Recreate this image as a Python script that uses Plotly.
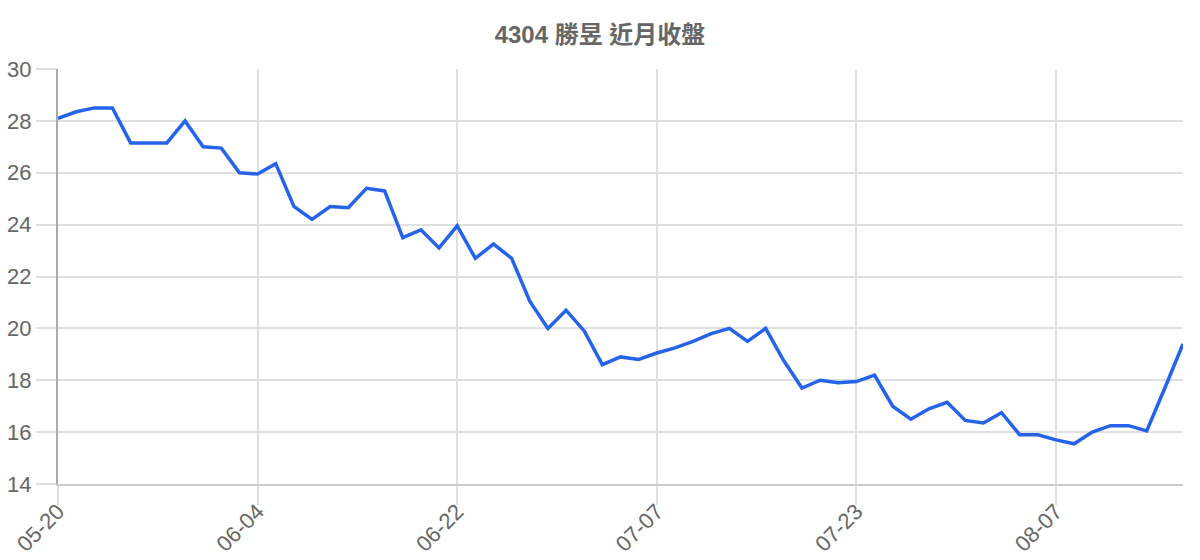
import plotly.graph_objects as go

dates = [
    "05-20", "05-21", "05-22", "05-23", "05-24", "05-27", "05-28", "05-29", "05-30", "05-31", "06-03",
    "06-04", "06-05", "06-06", "06-07", "06-11", "06-12", "06-13", "06-14", "06-17", "06-18", "06-20",
    "06-22", "06-24", "06-25", "06-26", "06-27", "06-28", "07-01", "07-02", "07-03", "07-04", "07-05",
    "07-07", "07-08", "07-09", "07-10", "07-11", "07-12", "07-15", "07-16", "07-17", "07-18", "07-19",
    "07-23", "07-24", "07-25", "07-26", "07-29", "07-30", "07-31", "08-01", "08-02", "08-05", "08-06",
    "08-07", "08-08", "08-09", "08-12", "08-13", "08-14", "08-15", "08-16",
]

close = [
    28.1, 28.35, 28.5, 28.5, 27.15, 27.15, 27.15, 28.0, 27.0, 26.95, 26.0,
    25.95, 26.35, 24.7, 24.2, 24.7, 24.65, 25.4, 25.3, 23.5, 23.8, 23.1,
    23.95, 22.7, 23.25, 22.7, 21.05, 20.0, 20.7, 19.9, 18.6, 18.9, 18.8,
    19.05, 19.25, 19.5, 19.8, 20.0, 19.5, 20.0, 18.75, 17.7, 18.0, 17.9,
    17.95, 18.2, 17.0, 16.5, 16.9, 17.15, 16.45, 16.35, 16.75, 15.9, 15.9,
    15.7, 15.55, 16.0, 16.25, 16.25, 16.05, 17.7, 19.4,
]

tick_labels = ["05-20", "06-04", "06-22", "07-07", "07-23", "08-07"]
y_ticks = [14, 16, 18, 20, 22, 24, 26, 28, 30]

title_text = "4304 勝昱 近月收盤"

grid = "#e0e0e0"
fig = go.Figure()
fig.add_trace(go.Scatter(
    x=dates, y=close, mode="lines",
    line=dict(color="#2563eb", width=3.5),
    hovertemplate="%{x}: %{y}<extra></extra>",
))

fig.update_layout(
    width=1200, height=560,
    margin=dict(l=58, r=17, t=69, b=76, autoexpand=False),
    paper_bgcolor="white", plot_bgcolor="white",
    font=dict(family="Liberation Sans, Arial, sans-serif", color="#666666", size=22),
    title=dict(
        text="<b>" + title_text + "</b>",
        x=0.5, xanchor="center", y=1 - 35 / 560, yanchor="middle",
        font=dict(family="Liberation Sans, Noto Sans CJK TC, sans-serif", size=24, color="#666666"),
    ),
    showlegend=False,
)

fig.update_xaxes(
    type="category",
    categoryorder="array", categoryarray=dates,
    range=[0, len(dates) - 1],
    tickmode="array", tickvals=tick_labels, ticktext=tick_labels,
    tickangle=-45,
    showgrid=True, gridcolor=grid, gridwidth=1.5,
    ticks="outside", ticklen=19, tickcolor=grid, tickwidth=1.5,
    showline=True, linecolor="#cccccc", linewidth=2,
    tickfont=dict(size=22, color="#666666"),
    ticklabelstandoff=-15,
    zeroline=False, automargin=False,
)

fig.update_yaxes(
    range=[14, 30],
    tickmode="array", tickvals=y_ticks,
    showgrid=True, gridcolor=grid, gridwidth=1.5,
    ticks="outside", ticklen=20, tickcolor=grid, tickwidth=1.5,
    showline=True, linecolor="#aaaaaa", linewidth=2,
    tickfont=dict(size=22, color="#666666"),
    zeroline=False, automargin=False,
)

fig.write_html(
    "out.html",
    config={"displayModeBar": False},
    post_script="document.body.style.margin='0';document.body.style.overflow='hidden';",
)
